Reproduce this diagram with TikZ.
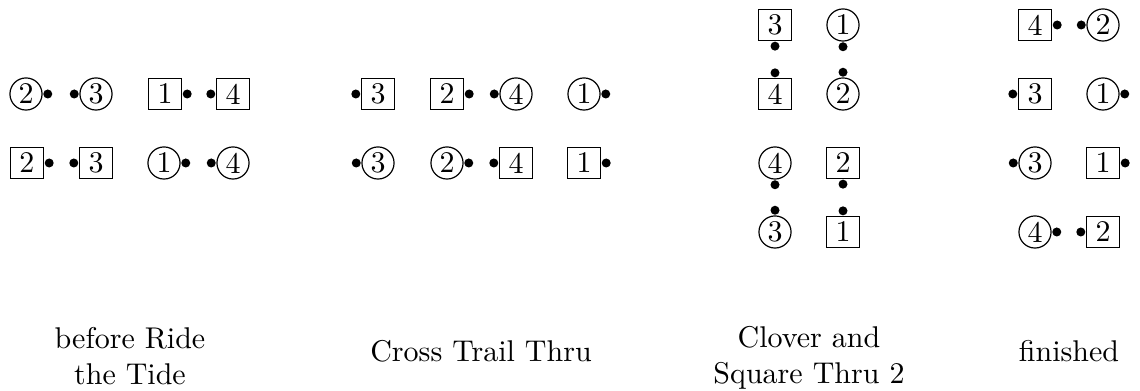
\documentclass[tikz,border=0pt]{standalone}
\usetikzlibrary{positioning}

\begin{document}
\begin{tikzpicture}[x=0.3333pt,y=-0.3333pt,
    girl/.style={circle,draw,minimum size=10.7pt,inner sep=0pt},
    boy/.style={rectangle,draw,minimum width=11pt,minimum height=10.3pt,inner sep=0pt},
    nose/.style={circle,fill,minimum size=3pt,inner sep=0pt},
    caption/.style={align=center}]
    \useasboundingbox (0,0) rectangle (1140,391);

    % before Ride the Tide
    \node[girl] (a2g) at (26,94) {2};   \node[nose,right=0pt of a2g] (a2gn) {};
    \node[girl] (a3g) at (96,94) {3};   \node[nose,left=0pt of a3g] (a3gn) {};
    \node[boy] (a1b) at (165,94) {1};   \node[nose,right=0pt of a1b] (a1bn) {};
    \node[boy] (a4b) at (233,94) {4};   \node[nose,left=0pt of a4b] (a4bn) {};
    \node[boy] (a2b) at (27,163) {2};   \node[nose,right=0pt of a2b] (a2bn) {};
    \node[boy] (a3b) at (96,163) {3};   \node[nose,left=0pt of a3b] (a3bn) {};
    \node[girl] (a1g) at (164,163) {1}; \node[nose,right=0pt of a1g] (a1gn) {};
    \node[girl] (a4g) at (233,163) {4}; \node[nose,left=0pt of a4g] (a4gn) {};
    \node[caption] (acap) at (130,356) {before Ride\\the Tide};

    % Cross Trail Thru
    \node[boy] (b3b) at (378,94) {3};   \node[nose,left=0pt of b3b] (b3bn) {};
    \node[boy] (b2b) at (447,94) {2};   \node[nose,right=0pt of b2b] (b2bn) {};
    \node[girl] (b4g) at (516,94) {4};  \node[nose,left=0pt of b4g] (b4gn) {};
    \node[girl] (b1g) at (584,94) {1};  \node[nose,right=0pt of b1g] (b1gn) {};
    \node[girl] (b3g) at (378,163) {3}; \node[nose,left=0pt of b3g] (b3gn) {};
    \node[girl] (b2g) at (447,163) {2}; \node[nose,right=0pt of b2g] (b2gn) {};
    \node[boy] (b4b) at (516,163) {4};  \node[nose,left=0pt of b4b] (b4bn) {};
    \node[boy] (b1b) at (584,163) {1};  \node[nose,right=0pt of b1b] (b1bn) {};
    \node[caption] (bcap) at (481,351) {Cross Trail Thru};

    % Clover and Square Thru 2
    \node[boy] (c3b) at (775,25) {3};   \node[nose,below=0pt of c3b] (c3bn) {};
    \node[girl] (c1g) at (843,25) {1};  \node[nose,below=0pt of c1g] (c1gn) {};
    \node[boy] (c4b) at (775,94) {4};   \node[nose,above=0pt of c4b] (c4bn) {};
    \node[girl] (c2g) at (843,94) {2};  \node[nose,above=0pt of c2g] (c2gn) {};
    \node[girl] (c4g) at (775,163) {4}; \node[nose,below=0pt of c4g] (c4gn) {};
    \node[boy] (c2b) at (843,163) {2};  \node[nose,below=0pt of c2b] (c2bn) {};
    \node[girl] (c3g) at (775,232) {3}; \node[nose,above=0pt of c3g] (c3gn) {};
    \node[boy] (c1b) at (843,232) {1};  \node[nose,above=0pt of c1b] (c1bn) {};
    \node[caption] (ccap) at (809,358) {Clover and\\Square Thru 2};

    % finished
    \node[boy] (d4b) at (1035,25) {4};   \node[nose,right=0pt of d4b] (d4bn) {};
    \node[girl] (d2g) at (1103,25) {2};  \node[nose,left=0pt of d2g] (d2gn) {};
    \node[boy] (d3b) at (1035,94) {3};   \node[nose,left=0pt of d3b] (d3bn) {};
    \node[girl] (d1g) at (1103,94) {1};  \node[nose,right=0pt of d1g] (d1gn) {};
    \node[girl] (d3g) at (1035,163) {3}; \node[nose,left=0pt of d3g] (d3gn) {};
    \node[boy] (d1b) at (1103,163) {1};  \node[nose,right=0pt of d1b] (d1bn) {};
    \node[girl] (d4g) at (1035,232) {4}; \node[nose,right=0pt of d4g] (d4gn) {};
    \node[boy] (d2b) at (1103,232) {2};  \node[nose,left=0pt of d2b] (d2bn) {};
    \node[caption] (dcap) at (1069,351) {finished};

\end{tikzpicture}
\end{document}
